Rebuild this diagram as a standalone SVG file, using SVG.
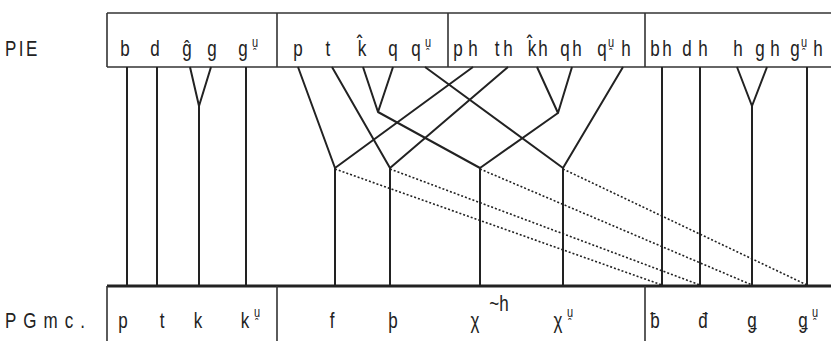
<svg xmlns="http://www.w3.org/2000/svg" width="831" height="341" viewBox="0 0 831 341">
<style>
.t{font-family:"Liberation Sans",Arial,"DejaVu Sans",sans-serif;font-size:17px;fill:#222;text-anchor:middle}
.lab{font-family:"Liberation Sans",Arial,sans-serif;font-size:17px;fill:#222}
.s{font-size:11px}
.kc{font-family:"Noto Sans","DejaVu Sans",sans-serif}
.ln{stroke:#222;stroke-width:2;fill:none;stroke-linejoin:round}
.bx{stroke:#333;stroke-width:1.6;fill:none}
.dt{stroke:#222;stroke-width:1.6;fill:none;stroke-dasharray:2 2}
</style>
<rect width="831" height="341" fill="#fff"/>
<g id="frame">
<line class="bx" x1="107" y1="13" x2="831" y2="13"/>
<line class="bx" x1="107" y1="67" x2="831" y2="67" stroke-width="2"/>
<line class="bx" x1="107" y1="13" x2="107" y2="67"/>
<line class="bx" x1="277" y1="13" x2="277" y2="67"/>
<line class="bx" x1="448" y1="13" x2="448" y2="67"/>
<line class="bx" x1="645" y1="13" x2="645" y2="67"/>
<line x1="107" y1="286" x2="831" y2="286" stroke="#222" stroke-width="3"/>
<line class="bx" x1="107" y1="286" x2="107" y2="341"/>
<line class="bx" x1="277" y1="286" x2="277" y2="341"/>
<line class="bx" x1="645" y1="286" x2="645" y2="341"/>
</g>
<g id="labels" transform="scale(1,1.3)">
<text class="lab" x="5" y="43.1" letter-spacing="2.5">PIE</text>
<text class="lab" x="5" y="252.3" letter-spacing="7">PGmc.</text>
</g>
<g id="pie" transform="scale(1,1.3)">
<text class="t" x="125" y="43.1">b</text>
<text class="t" x="155" y="43.1">d</text>
<text class="t" x="187" y="43.1">ĝ</text>
<text class="t" x="212" y="43.1">g</text>
<text class="t" x="243" y="43.1">g</text><text class="t s" x="255" y="36.2">u̯</text>
<text class="t" x="298" y="43.1">p</text>
<text class="t" x="328" y="43.1">t</text>
<text class="t kc" x="362" y="43.1">k̂</text>
<text class="t" x="393" y="43.1">q</text>
<text class="t" x="416" y="43.1">q</text><text class="t s" x="428" y="36.2">u̯</text>
<text class="t" x="458" y="43.1">p</text><text class="t" x="473" y="43.1">h</text>
<text class="t" x="497" y="43.1">t</text><text class="t" x="508" y="43.1">h</text>
<text class="t kc" x="532" y="43.1">k̂</text><text class="t" x="543" y="43.1">h</text>
<text class="t" x="565" y="43.1">q</text><text class="t" x="577" y="43.1">h</text>
<text class="t" x="602" y="43.1">q</text><text class="t s" x="611" y="36.2">u̯</text><text class="t" x="626" y="43.1">h</text>
<text class="t" x="655" y="43.1">b</text><text class="t" x="667" y="43.1">h</text>
<text class="t" x="687" y="43.1">d</text><text class="t" x="703" y="43.1">h</text>
<text class="t" x="738" y="43.1">h</text>
<text class="t" x="760" y="43.1">g</text><text class="t" x="775" y="43.1">h</text>
<text class="t" x="795" y="43.1">g</text><text class="t s" x="804" y="36.2">u̯</text><text class="t" x="818" y="43.1">h</text>
</g>
<g id="pgmc" transform="scale(1,1.3)">
<text class="t" x="123" y="252.3">p</text>
<text class="t" x="162" y="252.3">t</text>
<text class="t" x="198" y="252.3">k</text>
<text class="t" x="245" y="252.3">k</text><text class="t s" x="257" y="243.8">u̯</text>
<text class="t" x="332" y="252.3">f</text>
<text class="t" x="393" y="252.3">þ</text>
<text class="t" x="475" y="252.3">χ</text><text class="t" x="499" y="239.5">~h</text>
<text class="t" x="558" y="252.3">χ</text><text class="t s" x="570" y="243.8">u̯</text>
<text class="t" x="655" y="252.3">ƀ</text>
<text class="t" x="703" y="252.3">đ</text>
<text class="t" x="752" y="252.3">ǥ</text>
<text class="t" x="803" y="252.3">ǥ</text><text class="t s" x="815" y="243.8">u̯</text>
</g>
<g id="connectors">
<line class="ln" x1="127" y1="67" x2="127" y2="286"/>
<line class="ln" x1="157" y1="67" x2="157" y2="286"/>
<polyline class="ln" points="190,67 199,106 211,67"/>
<line class="ln" x1="199" y1="106" x2="199" y2="286"/>
<line class="ln" x1="246" y1="67" x2="246" y2="286"/>
<polyline class="ln" points="298,67 335,168 473,67"/>
<polyline class="ln" points="332,67 390,168 508,67"/>
<polyline class="ln" points="363,67 378,112 393,67"/>
<polyline class="ln" points="378,112 480,168 558,113"/>
<polyline class="ln" points="537,67 558,113 572,67"/>
<polyline class="ln" points="425,67 563,168 623,67"/>
<line class="ln" x1="335" y1="168" x2="335" y2="286"/>
<line class="ln" x1="390" y1="168" x2="390" y2="286"/>
<line class="ln" x1="480" y1="168" x2="480" y2="286"/>
<line class="ln" x1="563" y1="168" x2="563" y2="286"/>
<line class="ln" x1="662" y1="67" x2="662" y2="286"/>
<line class="ln" x1="700" y1="67" x2="700" y2="286"/>
<polyline class="ln" points="737,67 752,106 767,67"/>
<line class="ln" x1="752" y1="106" x2="752" y2="286"/>
<line class="ln" x1="807" y1="67" x2="807" y2="286"/>
<line class="dt" x1="335" y1="169" x2="662" y2="285"/>
<line class="dt" x1="390" y1="169" x2="700" y2="285"/>
<line class="dt" x1="480" y1="169" x2="752" y2="285"/>
<line class="dt" x1="563" y1="169" x2="807" y2="285"/>
</g>
</svg>
